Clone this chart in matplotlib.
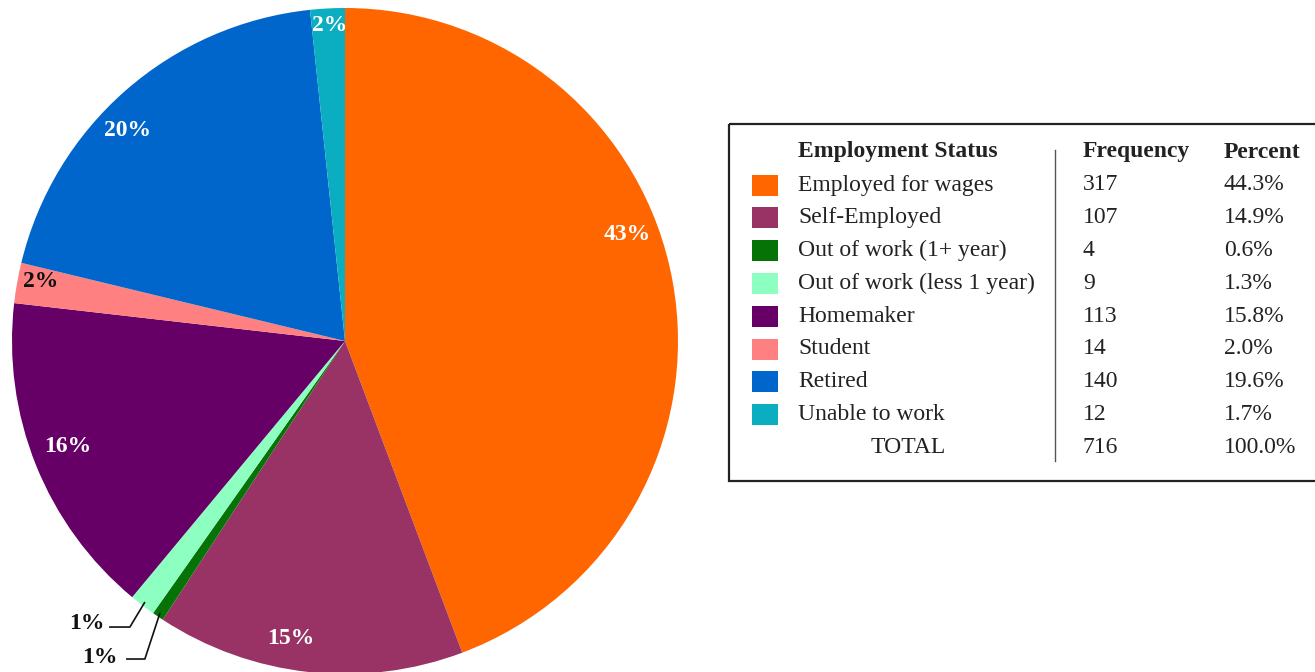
import numpy as np
import matplotlib
matplotlib.use("Agg")
import matplotlib.pyplot as plt
from matplotlib.patches import Rectangle

# ---------------------------------------------------------------
# DATA
# ---------------------------------------------------------------
STATUS = ["Employed for wages", "Self-Employed", "Out of work (1+ year)",
          "Out of work (less 1 year)", "Homemaker", "Student", "Retired",
          "Unable to work"]
FREQ = [317, 107, 4, 9, 113, 14, 140, 12]
PCT_TXT = ["44.3%", "14.9%", "0.6%", "1.3%", "15.8%", "2.0%", "19.6%", "1.7%"]
PIE_LABELS = ["43%", "15%", "1%", "1%", "16%", "2%", "20%", "2%"]
TOTAL_FREQ = "716"
TOTAL_PCT = "100.0%"

COLORS = ["#ff6600", "#993366", "#067306", "#8dffc1",
          "#660066", "#ff8080", "#0066cc", "#0aaec0"]
LABEL_COLORS = ["white", "white", "#111111", "#111111",
                "white", "#111111", "white", "white"]

plt.rcParams["font.family"] = ["Liberation Serif", "DejaVu Serif"]
TXT = "#222222"
FS = 17

W, H = 1315, 672
fig = plt.figure(figsize=(W / 100, H / 100), dpi=100)
fig.patch.set_facecolor("white")

# ---------------------------------------------------------------
# TABLE / LEGEND (pixel coordinates on a full-figure axes)
# ---------------------------------------------------------------
tab = fig.add_axes([0, 0, 1, 1])
tab.set_xlim(0, W)
tab.set_ylim(H, 0)
tab.axis("off")

tab.add_patch(Rectangle((729, 124), 620, 357, fill=False,
                        ec="#222222", lw=1.6))
tab.plot([1055, 1055], [150, 461], color="#555555", lw=1.0)

tab.text(798, 152, "Employment Status", fontsize=FS, fontweight="bold",
         color=TXT, va="center", ha="left")
tab.text(1083, 152, "Frequency", fontsize=FS, fontweight="bold",
         color=TXT, va="center", ha="left")
tab.text(1224, 152, "Percent", fontsize=FS, fontweight="bold",
         color=TXT, va="center", ha="left")

row0, step = 185, 32.8
for i, (name, f, p, c) in enumerate(zip(STATUS, FREQ, PCT_TXT, COLORS)):
    y = row0 + i * step
    tab.add_patch(Rectangle((752, y - 10.5), 26, 21, fc=c, ec="none"))
    tab.text(798, y, name, fontsize=FS, color=TXT, va="center", ha="left")
    tab.text(1083, y, str(f), fontsize=FS, color=TXT, va="center", ha="left")
    tab.text(1224, y, p, fontsize=FS, color=TXT, va="center", ha="left")

y = row0 + len(STATUS) * step
tab.text(908, y, "TOTAL", fontsize=FS, color=TXT, va="center", ha="center")
tab.text(1083, y, TOTAL_FREQ, fontsize=FS, color=TXT, va="center", ha="left")
tab.text(1224, y, TOTAL_PCT, fontsize=FS, color=TXT, va="center", ha="left")

# ---------------------------------------------------------------
# PIE
# ---------------------------------------------------------------
cx, cy, r = 345, 341, 333
ax = fig.add_axes([(cx - r) / W, (H - cy - r) / H, 2 * r / W, 2 * r / H])
wedges, _ = ax.pie(FREQ, colors=COLORS, startangle=90, counterclock=False,
                   radius=1.0, wedgeprops=dict(linewidth=0))
ax.set_xlim(-1, 1)
ax.set_ylim(-1, 1)
ax.set_aspect("equal")
ax.axis("off")

# label placement: (angle nudge in degrees, radial distance)
place = {0: (10.3, 0.905), 1: (-4.0, 0.907), 4: (-1.0, 0.89),
         5: (-1.0, 0.93), 6: (4.7, 0.91), 7: (-0.3, 0.95)}

for i, w in enumerate(wedges):
    mid = (w.theta1 + w.theta2) / 2
    if i in place:
        nudge, dist = place[i]
        a = np.deg2rad(mid + nudge)
        ax.text(dist * np.cos(a), dist * np.sin(a), PIE_LABELS[i],
                fontsize=FS, fontweight="bold", color=LABEL_COLORS[i],
                ha="center", va="center")

# small slices get leader lines out to the left
leaders = {3: ((-0.646, -0.859), (-0.706, -0.859), (-0.721, -0.848)),
           2: ((-0.601, -0.955), (-0.655, -0.955), (-0.682, -0.950))}
for i, (elbow, end, tpos) in leaders.items():
    w = wedges[i]
    a = np.deg2rad((w.theta1 + w.theta2) / 2)
    ex, ey = 0.99 * np.cos(a), 0.99 * np.sin(a)
    ax.plot([ex, elbow[0], end[0]], [ey, elbow[1], end[1]],
            color="#111111", lw=1.2, clip_on=False)
    ax.text(tpos[0], tpos[1], PIE_LABELS[i], fontsize=FS, fontweight="bold",
            color=LABEL_COLORS[i], ha="right", va="center", clip_on=False)

fig.savefig("out.png", dpi=100, facecolor="white")
